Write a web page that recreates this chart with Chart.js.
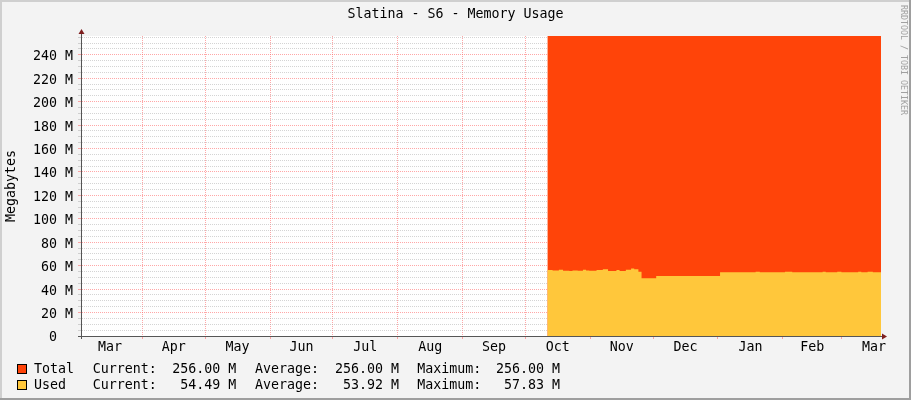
<!DOCTYPE html>
<html>
<head>
<meta charset="utf-8">
<script src="https://cdn.jsdelivr.net/npm/chart.js@4.4.0/dist/chart.umd.min.js"></script>
<style>
  html, body { margin: 0; padding: 0; background: #f3f3f3; }
  canvas { display: block; }
</style>
</head>
<body>
<canvas id="memChart" width="911" height="400"></canvas>
<script>
const ctx = document.getElementById("memChart").getContext("2d");
const MONO = '"DejaVu Sans Mono", monospace';

// x axis is "days since 1 Mar" of the first year
const monthNames = ['Mar', 'Apr', 'May', 'Jun', 'Jul', 'Aug', 'Sep', 'Oct', 'Nov', 'Dec', 'Jan', 'Feb', 'Mar'];
const monthStarts = [0, 31, 61, 92, 122, 153, 184, 214, 245, 275, 306, 337, 365, 396];

const yLabels = [0, 20, 40, 60, 80, 100, 120, 140, 160, 180, 200, 220, 240];
const yMinorStep = 5;

// Total memory (MB)
const totalDays = [224.5, 383.9];
const totalValues = [256, 256];

// Used memory (MB), step values
const usedDays = [224.5, 227, 230, 232, 235, 236.5, 239, 241.5, 243, 244.5, 248, 251, 253.5, 257.5, 259,
    262, 264.5, 266, 268, 269.5, 276.5, 307, 324, 326, 338, 341.5, 356, 357.5, 363, 365, 373, 374.5,
    377.5, 380, 383.9];
const usedValues = [56.3, 56.0, 56.6, 55.7, 55.5, 56.0, 55.7, 56.6, 56.0, 55.7, 56.3, 56.9, 55.5, 56.3, 55.5,
    56.6, 57.5, 56.9, 54.9, 49.2, 51.3, 54.3, 54.9, 54.3, 54.9, 54.3, 54.9, 54.3, 54.9, 54.3, 54.9, 54.3,
    54.9, 54.5, 54.5];

// legend text
const legendNames = ['Total', 'Used'];
const legendColors = ['#FF4409', '#FFC73B'];
const currentVals = ['256.00 M', ' 54.49 M'];
const averageVals = ['256.00 M', ' 53.92 M'];
const maximumVals = ['256.00 M', ' 57.83 M'];

const xMin = 1.7, xMax = 383.9;

const majorColor = 'rgba(255, 95, 95, 0.55)';
const minorColor = 'rgba(170, 170, 170, 0.5)';
const clear = 'rgba(0, 0, 0, 0)';

// month boundaries get a grid line, month middles get the label
const monthTicks = [];
const monthLabelAt = {};
for (let i = 0; i < monthNames.length; i++) {
    const start = monthStarts[i];
    const mid = (monthStarts[i] + monthStarts[i + 1]) / 2;
    if (start > xMin && start < xMax) monthTicks.push(start);
    monthTicks.push(mid);
    monthLabelAt[mid] = monthNames[i];
}

const xGridColor = (c) => {
    if (!c.tick) return majorColor;
    return monthLabelAt[c.tick.value] !== undefined ? clear : majorColor;
};
const yGridColor = (c) => {
    if (!c.tick) return minorColor;
    const v = c.tick.value;
    if (v === 0) return clear;
    return yLabels.includes(v) ? majorColor : minorColor;
};

const rrdPlugin = {
    id: 'rrdFrame',
    beforeDraw(chart) {
        const c = chart.ctx;
        const a = chart.chartArea;
        c.save();
        c.fillStyle = '#F3F3F3';
        c.fillRect(0, 0, chart.width, chart.height);
        c.fillStyle = '#FFFFFF';
        c.fillRect(a.left, a.top, a.right - a.left, a.bottom - a.top);
        // 3d frame
        c.fillStyle = '#CFCFCF';
        c.fillRect(0, 0, chart.width, 2);
        c.fillRect(0, 0, 2, chart.height);
        c.fillStyle = '#9E9E9E';
        c.fillRect(0, chart.height - 2, chart.width, 2);
        c.fillRect(chart.width - 2, 0, 2, chart.height);
        c.restore();
    },
    afterDraw(chart) {
        const c = chart.ctx;
        const a = chart.chartArea;
        c.save();
        // axis extensions + arrows
        c.strokeStyle = '#555555';
        c.lineWidth = 1;
        c.beginPath();
        c.moveTo(a.left + 0.5, a.bottom + 3);
        c.lineTo(a.left + 0.5, a.top - 3);
        c.moveTo(a.left - 3, a.bottom + 0.5);
        c.lineTo(a.right + 2, a.bottom + 0.5);
        c.stroke();
        c.fillStyle = '#7F1F1F';
        c.beginPath();
        c.moveTo(a.left + 0.5, a.top - 7);
        c.lineTo(a.left + 3.5, a.top - 2);
        c.lineTo(a.left - 2.5, a.top - 2);
        c.closePath();
        c.fill();
        c.beginPath();
        c.moveTo(a.right + 6, a.bottom + 0.5);
        c.lineTo(a.right + 1, a.bottom + 3.5);
        c.lineTo(a.right + 1, a.bottom - 2.5);
        c.closePath();
        c.fill();

        // title
        c.fillStyle = '#000000';
        c.font = '13.3px ' + MONO;
        c.textBaseline = 'middle';
        c.textAlign = 'center';
        c.fillText('Slatina - S6 - Memory Usage', chart.width / 2, 15);

        // legend
        c.textAlign = 'left';
        for (let i = 0; i < legendNames.length; i++) {
            const y = 368.5 + i * 16;
            c.fillStyle = legendColors[i];
            c.fillRect(17, y - 4.5, 10, 10);
            c.strokeStyle = '#000000';
            c.strokeRect(17.5, y - 4, 9, 9);
            c.fillStyle = '#000000';
            const ty = y + 1.5;
            c.fillText(legendNames[i], 34, ty);
            c.fillText('Current:', 92.7, ty);
            c.fillText(currentVals[i], 172.3, ty);
            c.fillText('Average:', 255, ty);
            c.fillText(averageVals[i], 335, ty);
            c.fillText('Maximum:', 417.3, ty);
            c.fillText(maximumVals[i], 496, ty);
        }

        // watermark
        c.fillStyle = '#A0A0A0';
        c.font = '8.3px ' + MONO;
        c.translate(903, 5);
        c.rotate(Math.PI / 2);
        c.textAlign = 'left';
        c.fillText('RRDTOOL / TOBI OETIKER', 0, 0);
        c.restore();
    }
};

const data = {
    datasets: [
        {
            label: 'Used',
            data: usedDays.map((d, i) => ({ x: d, y: usedValues[i] })),
            fill: 'origin',
            backgroundColor: legendColors[1],
            borderWidth: 0,
            pointRadius: 0,
            stepped: 'before',
        },
        {
            label: 'Total',
            data: totalDays.map((d, i) => ({ x: d, y: totalValues[i] })),
            fill: 'origin',
            backgroundColor: legendColors[0],
            borderWidth: 0,
            pointRadius: 0,
            stepped: 'before',
        },
    ],
};

const config = {
    type: 'line',
    data: data,
    plugins: [rrdPlugin],
    options: {
        responsive: false,
        animation: false,
        devicePixelRatio: 1,
        layout: { padding: { top: 36, right: 30, left: 0, bottom: 0 } },
        plugins: {
            legend: { display: false },
            title: { display: false },
            tooltip: { enabled: false },
        },
        scales: {
            x: {
                type: 'linear',
                min: xMin,
                max: xMax,
                z: 1,
                afterBuildTicks: (scale) => {
                    scale.ticks = monthTicks.map(v => ({ value: v }));
                },
                afterFit: (scale) => {
                    scale.height = 64;
                    scale.paddingLeft = 0;
                    scale.paddingRight = 0;
                },
                ticks: {
                    autoSkip: false,
                    maxRotation: 0,
                    minRotation: 0,
                    padding: 1,
                    color: '#000000',
                    font: { family: MONO, size: 13.3 },
                    callback: (v) => monthLabelAt[v] || '',
                },
                grid: {
                    color: xGridColor,
                    tickColor: xGridColor,
                    tickLength: 3,
                    lineWidth: 1,
                },
                border: { display: true, color: '#555555', width: 1, dash: [1, 1] },
            },
            y: {
                min: 0,
                max: 256,
                z: 1,
                afterBuildTicks: (scale) => {
                    const t = [];
                    for (let v = 0; v < 256; v += yMinorStep) t.push({ value: v });
                    scale.ticks = t;
                },
                afterFit: (scale) => {
                    scale.width = 81;
                    scale.paddingTop = 0;
                    scale.paddingBottom = 0;
                },
                ticks: {
                    autoSkip: false,
                    padding: 5,
                    labelOffset: 2,
                    color: '#000000',
                    font: { family: MONO, size: 13.3 },
                    callback: (v) => v === 0 ? '0  ' : (yLabels.includes(v) ? v + ' M' : ''),
                },
                grid: {
                    color: yGridColor,
                    tickColor: yGridColor,
                    tickLength: 3,
                    lineWidth: 1,
                },
                border: { display: true, color: '#555555', width: 1, dash: [1, 1] },
                title: {
                    display: true,
                    text: 'Megabytes',
                    color: '#000000',
                    font: { family: MONO, size: 13.3 },
                    padding: { top: 4, bottom: 0 },
                },
            },
        },
    },
};

const memChart = new Chart(ctx, config);
</script>
</body>
</html>
